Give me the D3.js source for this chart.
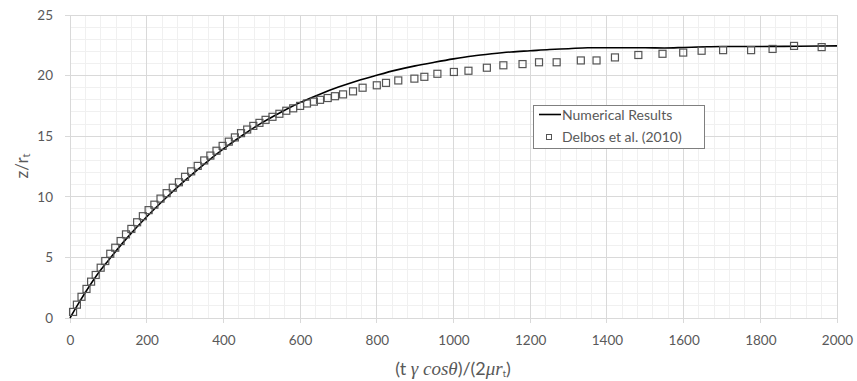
<!DOCTYPE html>
<html>
<head>
<meta charset="utf-8">
<script src="https://cdn.jsdelivr.net/npm/d3@7"></script>
<style>
  html, body { margin: 0; padding: 0; background: #fff; }
  svg { display: block; }
</style>
</head>
<body>
<svg id="chart" width="857" height="381"></svg>
<script>
// ---- data ----
const numX = [0, 25, 50, 75, 100, 150, 200, 250, 300, 350, 400, 450, 500, 550, 600, 650, 700, 750, 800, 850, 900, 950, 1000, 1050, 1100, 1150, 1200, 1250, 1300, 1350, 1400, 1450, 1500, 1550, 1600, 1650, 1700, 1800, 1900, 2000];
const numZ = [0, 1.35, 2.6, 3.75, 4.75, 6.65, 8.35, 9.9, 11.35, 12.7, 13.95, 15.08, 16.1, 16.98, 17.78, 18.45, 19.05, 19.58, 20.03, 20.45, 20.8, 21.1, 21.38, 21.62, 21.8, 21.95, 22.05, 22.15, 22.22, 22.3, 22.3, 22.3, 22.3, 22.28, 22.32, 22.37, 22.4, 22.4, 22.42, 22.45];

const expX = [8, 18, 30, 43, 55, 67, 80, 92, 105, 118, 132, 146, 160, 175, 190, 205, 220, 236, 252, 268, 284, 300, 316, 333, 350, 366, 382, 398, 414, 430, 446, 462, 478, 494, 510, 528, 546, 564, 582, 600, 618, 636, 652, 672, 691, 712, 738, 763, 800, 824, 856, 898, 924, 958, 1001, 1039, 1087, 1130, 1180, 1223, 1269, 1332, 1373, 1421, 1482, 1545, 1599, 1647, 1703, 1776, 1832, 1888, 1960];
const expZ = [0.5, 1.1, 1.75, 2.4, 3.0, 3.55, 4.15, 4.7, 5.3, 5.8, 6.35, 6.9, 7.35, 7.9, 8.4, 8.9, 9.35, 9.85, 10.3, 10.75, 11.2, 11.65, 12.1, 12.55, 13.0, 13.4, 13.8, 14.2, 14.55, 14.9, 15.25, 15.55, 15.85, 16.1, 16.35, 16.6, 16.85, 17.1, 17.3, 17.5, 17.7, 17.85, 18.0, 18.15, 18.3, 18.45, 18.7, 19.0, 19.2, 19.4, 19.6, 19.75, 19.9, 20.15, 20.3, 20.4, 20.65, 20.85, 20.95, 21.1, 21.1, 21.25, 21.25, 21.5, 21.7, 21.8, 21.9, 22.05, 22.1, 22.1, 22.2, 22.45, 22.35];

const xTicks = [0, 200, 400, 600, 800, 1000, 1200, 1400, 1600, 1800, 2000];
const yTicks = [0, 5, 10, 15, 20, 25];
const xMinor = d3.range(0, 2001, 40);
const yMinor = d3.range(0, 25.01, 1);

const seriesNames = ["Numerical Results", "Delbos et al. (2010)"];

// ---- layout ----
const svg = d3.select("#chart");
const L = 70, R = 837, T = 15, B = 318;
const x = d3.scaleLinear().domain([0, 2000]).range([L, R]);
const y = d3.scaleLinear().domain([0, 25]).range([B, T]);

const font = "Lato, 'Open Sans', sans-serif";

// minor grid
svg.append("g").selectAll("line").data(xMinor).enter().append("line")
  .attr("x1", d => x(d)).attr("x2", d => x(d)).attr("y1", T).attr("y2", B)
  .attr("stroke", "#f0f0f0").attr("stroke-width", 1).attr("shape-rendering", "crispEdges");
svg.append("g").selectAll("line").data(yMinor).enter().append("line")
  .attr("y1", d => y(d)).attr("y2", d => y(d)).attr("x1", L).attr("x2", R)
  .attr("stroke", "#f0f0f0").attr("stroke-width", 1).attr("shape-rendering", "crispEdges");

// major grid (with outward ticks)
svg.append("g").selectAll("line").data(xTicks).enter().append("line")
  .attr("x1", d => x(d)).attr("x2", d => x(d)).attr("y1", T).attr("y2", B + 5)
  .attr("stroke", "#d9d9d9").attr("stroke-width", 1).attr("shape-rendering", "crispEdges");
svg.append("g").selectAll("line").data(yTicks).enter().append("line")
  .attr("y1", d => y(d)).attr("y2", d => y(d)).attr("x1", L - 5).attr("x2", R)
  .attr("stroke", "#d9d9d9").attr("stroke-width", 1).attr("shape-rendering", "crispEdges");

// axes labels via d3 axes
const xAxis = svg.append("g").attr("transform", `translate(0,${B})`)
  .call(d3.axisBottom(x).tickValues(xTicks).tickSize(0).tickPadding(17).tickFormat(d3.format("d")));
xAxis.select(".domain").remove();
xAxis.selectAll("text").attr("fill", "#595959").style("font-family", font).style("font-size", "13.5px");

const yAxis = svg.append("g").attr("transform", `translate(${L},0)`)
  .call(d3.axisLeft(y).tickValues(yTicks).tickSize(0).tickPadding(17).tickFormat(d3.format("d")));
yAxis.select(".domain").remove();
yAxis.selectAll("text").attr("fill", "#595959").style("font-family", font).style("font-size", "13.5px");

// numerical line
const lineData = numX.map((d, i) => [d, numZ[i]]);
svg.append("path").datum(lineData)
  .attr("fill", "none").attr("stroke", "#000").attr("stroke-width", 1.6)
  .attr("d", d3.line().x(d => x(d[0])).y(d => y(d[1])).curve(d3.curveMonotoneX));

// experimental squares
const sq = 7;
svg.append("g").selectAll("rect").data(expX.map((d, i) => [d, expZ[i]])).enter().append("rect")
  .attr("x", d => x(d[0]) - sq / 2).attr("y", d => y(d[1]) - sq / 2)
  .attr("width", sq).attr("height", sq)
  .attr("fill", "none").attr("stroke", "#555").attr("stroke-width", 1.2);

// axis titles
svg.append("text")
  .attr("transform", "translate(28,166) rotate(-90)")
  .attr("text-anchor", "middle").attr("fill", "#595959")
  .style("font-family", font).style("font-size", "17px")
  .text("z/rₜ");

const xt = svg.append("text").attr("x", 453).attr("y", 375)
  .attr("text-anchor", "middle").attr("fill", "#595959")
  .style("font-family", font).style("font-size", "18px");
const serif = "'Liberation Serif', 'DejaVu Serif', serif";
xt.append("tspan").text("(t ");
xt.append("tspan").style("font-family", serif).style("font-style", "italic").style("font-size", "19px").text("γ cosθ");
xt.append("tspan").text(")/(2");
xt.append("tspan").style("font-family", serif).style("font-style", "italic").style("font-size", "19px").text("μr");
xt.append("tspan").style("font-size", "9px").attr("dy", 2).text("t");
xt.append("tspan").attr("dy", -2).text(")");

// legend
const lg = svg.append("g");
lg.append("rect").attr("x", 533.5).attr("y", 105.5).attr("width", 171).attr("height", 43)
  .attr("fill", "#fff").attr("stroke", "#7f7f7f").attr("stroke-width", 1);
lg.append("line").attr("x1", 539).attr("x2", 561).attr("y1", 114.5).attr("y2", 114.5)
  .attr("stroke", "#000").attr("stroke-width", 1.6);
lg.append("rect").attr("x", 546.5).attr("y", 134.5).attr("width", 5).attr("height", 5)
  .attr("fill", "none").attr("stroke", "#555").attr("stroke-width", 1);
lg.selectAll("text").data(seriesNames).enter().append("text")
  .attr("x", 562).attr("y", (d, i) => 119.5 + i * 22)
  .attr("fill", "#595959").style("font-family", font).style("font-size", "14px")
  .text(d => d);
</script>
</body>
</html>
